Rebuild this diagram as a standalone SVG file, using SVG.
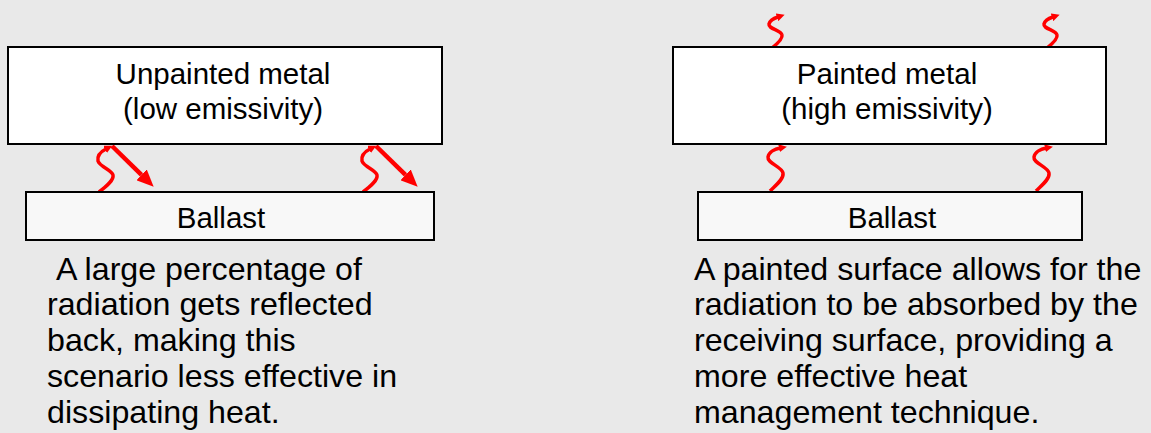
<svg xmlns="http://www.w3.org/2000/svg" width="1151" height="433" viewBox="0 0 1151 433">
<style>
  .box{fill:#ffffff;stroke:#000;stroke-width:2}
  .ballast{fill:#f8f8f8;stroke:#000;stroke-width:2}
  .lbl{font-family:"Liberation Sans",Arial,sans-serif;font-size:29.5px;fill:#000;text-anchor:middle}
  .body{font-family:"Liberation Sans",Arial,sans-serif;font-size:32.2px;fill:#000}
  .sq{fill:none;stroke:#ff0000;stroke-width:3.5;stroke-linejoin:round;marker-end:url(#sh)}
  .ref{fill:none;stroke:#ff0000;stroke-width:4.5;marker-end:url(#bh)}
</style>
<defs>
  <marker id="sh" markerUnits="userSpaceOnUse" markerWidth="8" markerHeight="8" viewBox="0 0 8 8" refX="1" refY="4" orient="auto">
    <path d="M0,0 L8,4 L0,8 z" fill="#ff0000"/>
  </marker>
  <marker id="bh" markerUnits="userSpaceOnUse" markerWidth="17" markerHeight="15" viewBox="0 0 17 15" refX="0" refY="7.5" orient="auto">
    <path d="M0,0 L17,7.5 L0,15 z" fill="#ff0000"/>
  </marker>
  <path id="sqL" d="M0,0 C8,-6 15,-12 14,-17 C13,-22 1,-25 -1,-31 C-2,-37 3,-41 7,-43"/>
  <path id="sqR" d="M0,0 C6,-6 14,-12 13,-18 C12,-24 -3,-28 -2,-34 C-1,-39 5,-42 10,-43"/>
  <path id="sqT" d="M0,0 C5,-4 11,-9 10,-13 C9,-18 -4,-19 -3,-24 C-2,-28 3,-30 6,-31"/>
</defs>
<rect x="0" y="0" width="1151" height="433" fill="#e9e9e9"/>

<g id="connectors">
  <use href="#sqL" x="99" y="192" class="sq"/>
  <use href="#sqL" x="363" y="192" class="sq"/>
  <path class="ref" d="M112,146 L141.5,174.8"/>
  <path class="ref" d="M376,146 L405.5,174.8"/>
  <use href="#sqR" x="770" y="191" class="sq"/>
  <use href="#sqR" x="1036" y="191" class="sq"/>
  <use href="#sqT" x="772" y="48" class="sq"/>
  <use href="#sqT" x="1047" y="48" class="sq"/>
</g>

<g id="unpainted-metal">
  <rect class="box" x="8" y="47" width="434" height="97"/>
  <text class="lbl" x="223" y="84">Unpainted metal</text>
  <text class="lbl" x="223" y="119">(low emissivity)</text>
</g>
<g id="ballast-left">
  <rect class="ballast" x="26" y="192" width="408" height="48"/>
  <text class="lbl" x="221" y="228">Ballast</text>
</g>
<g id="painted-metal">
  <rect class="box" x="673" y="47" width="433" height="97"/>
  <text class="lbl" x="887" y="84">Painted metal</text>
  <text class="lbl" x="887" y="119">(high emissivity)</text>
</g>
<g id="ballast-right">
  <rect class="ballast" x="698" y="192" width="384" height="48"/>
  <text class="lbl" x="892" y="228">Ballast</text>
</g>

<g id="caption-left">
  <text class="body" x="47" y="280">&#160;A large percentage of</text>
  <text class="body" x="47" y="315">radiation gets reflected</text>
  <text class="body" x="47" y="351">back, making this</text>
  <text class="body" x="47" y="387">scenario less effective in</text>
  <text class="body" x="47" y="423">dissipating heat.</text>
</g>
<g id="caption-right">
  <text class="body" x="694" y="280">A painted surface allows for the</text>
  <text class="body" x="694" y="315">radiation to be absorbed by the</text>
  <text class="body" x="694" y="351">receiving surface, providing a</text>
  <text class="body" x="694" y="387">more effective heat</text>
  <text class="body" x="694" y="423">management technique.</text>
</g>
</svg>
